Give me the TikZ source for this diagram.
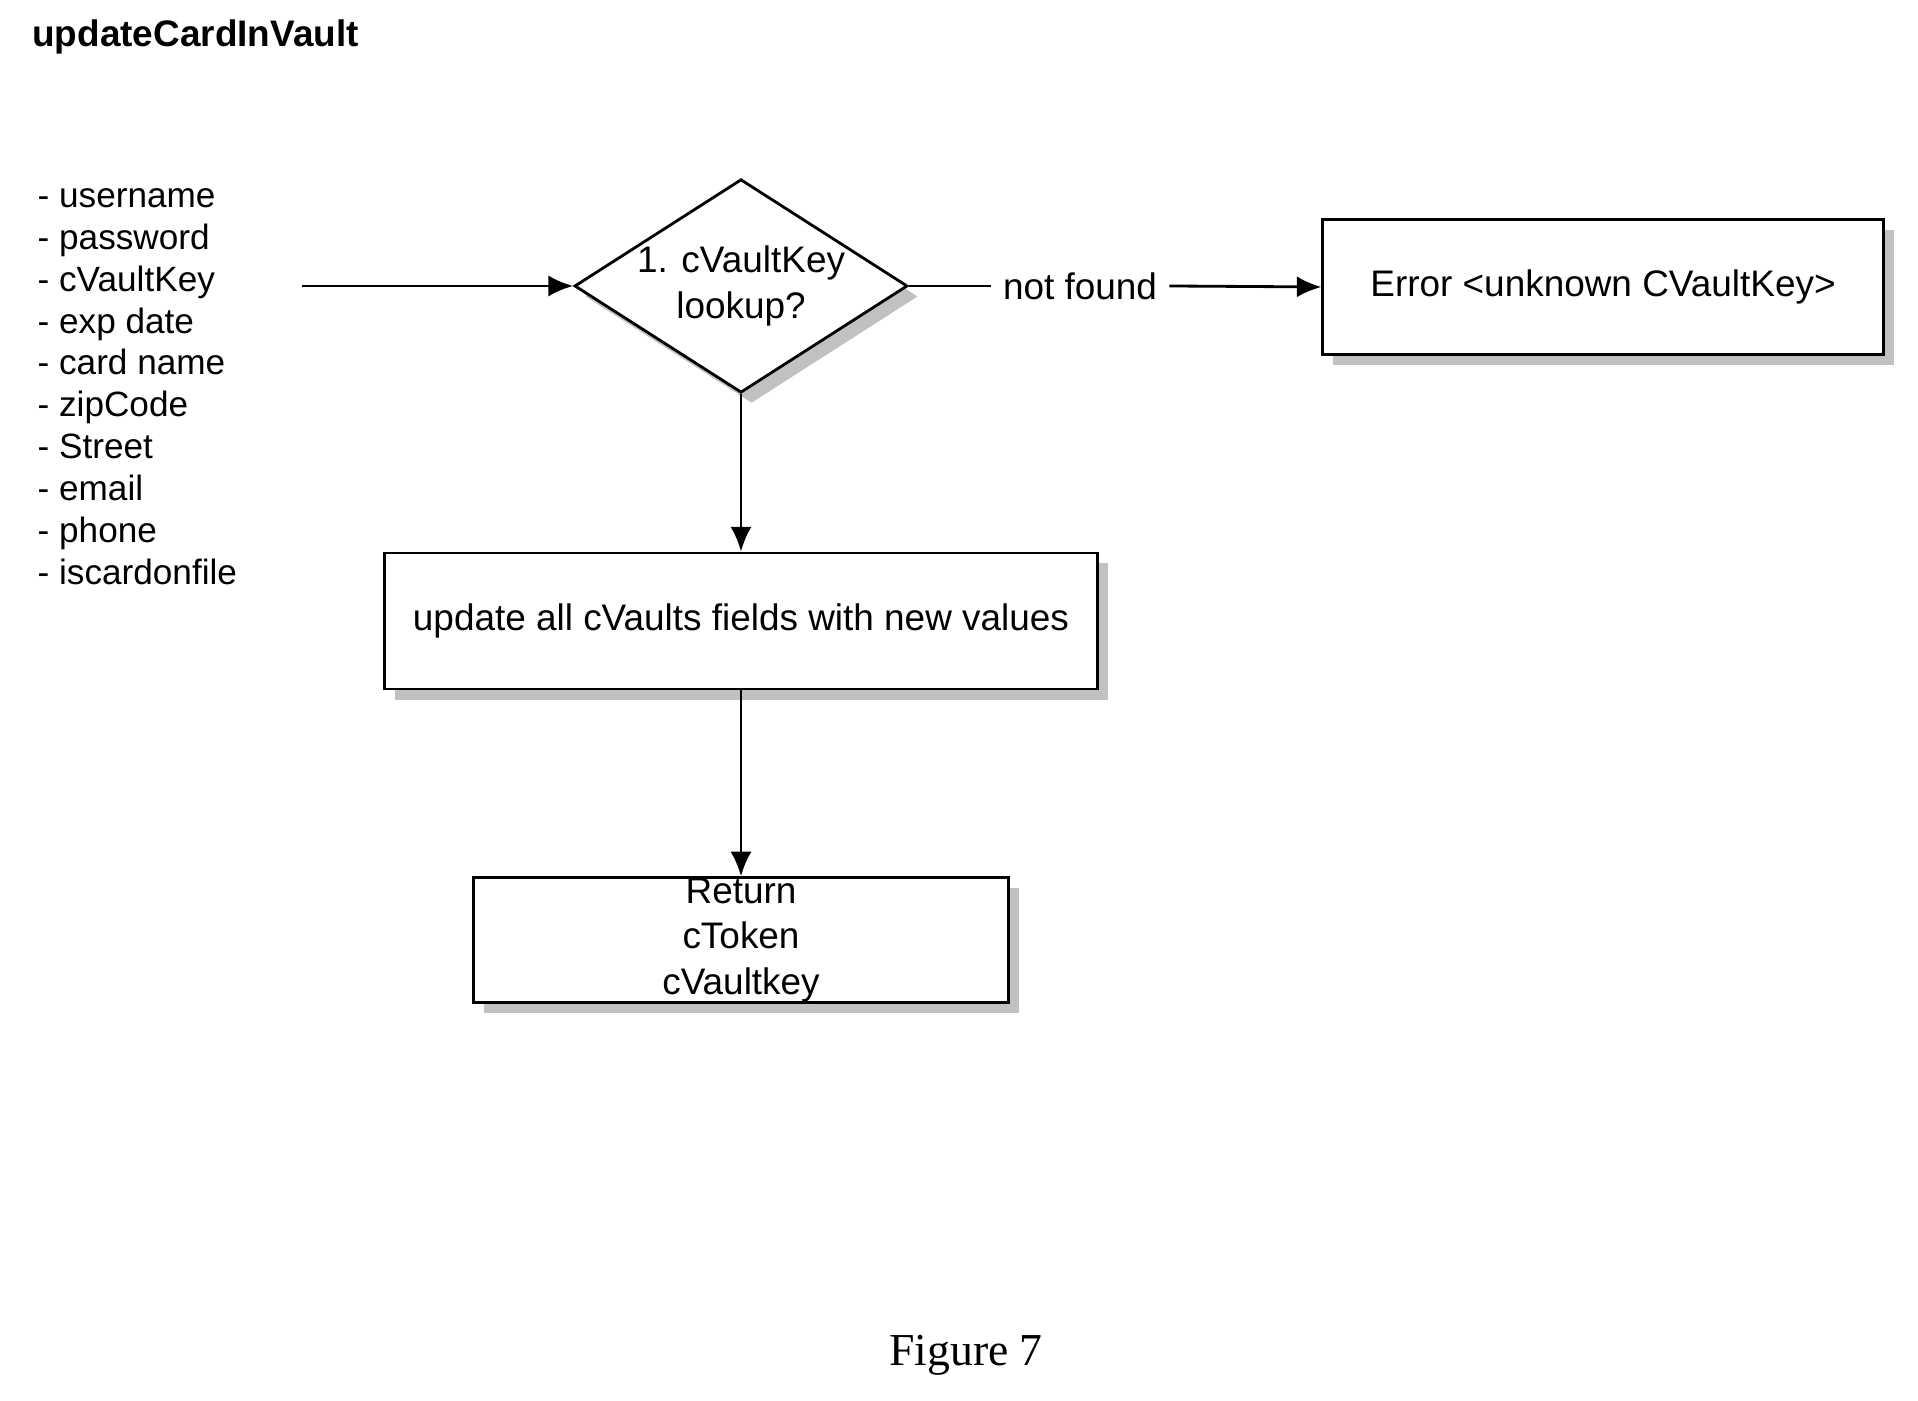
\documentclass[tikz,border=0pt]{standalone}
\usepackage{fontspec}
\setmainfont{Liberation Sans}
\newfontfamily\serifdoc{Liberation Serif}
\usetikzlibrary{shapes.geometric,arrows.meta,shadows}
\begin{document}
\begin{tikzpicture}[x=0.01cm,y=0.01cm,
  box/.style={draw,thick,fill=white,drop shadow={shadow xshift=3pt,shadow yshift=-3pt,fill=gray!60,opacity=0.8},font=\fontsize{10.5}{13}\selectfont,align=center,inner sep=0pt},
  arr/.style={-{Latex[length=7pt,width=6pt]},thick}]
\useasboundingbox (0,0) rectangle (1918,1401);
\node[anchor=west,font=\bfseries\fontsize{10.5}{12}\selectfont] (title) at (20,1364) {updateCardInVault};
\node[anchor=north west,align=left,font=\fontsize{10}{11.9}\selectfont,inner sep=0pt] (inputs) at (37,1213) {- username\\- password\\- cVaultKey\\- exp date\\- card name\\- zipCode\\- Street\\- email\\- phone\\- iscardonfile};
\coordinate (in) at (302,1115);
\node[diamond,box,minimum width=3.2cm,minimum height=2.05cm,aspect=1.56] (d) at (741,1115) {1. cVaultKey\\lookup?};
\node[font=\fontsize{10.5}{13}\selectfont] (nf) at (1080,1115) {not found};
\node[box,minimum width=5.6cm,minimum height=1.35cm] (err) at (1603,1114) {Error <unknown CVaultKey>};
\node[box,minimum width=7.12cm,minimum height=1.36cm] (upd) at (741,780) {update all cVaults fields with new values};
\node[box,minimum width=5.35cm,minimum height=1.14cm] (ret) at (741,461) {Return\\cToken\\cVaultkey};
\node[font=\serifdoc\fontsize{13}{15}\selectfont] (fig) at (966,46) {Figure 7};
\draw[arr] (in) -- (d.west);
\draw[thick] (d.east) -- (nf.west);
\draw[arr] (nf.east) -- (err.west);
\draw[arr] (d.south) -- (upd.north);
\draw[arr] (upd.south) -- (ret.north);
\end{tikzpicture}
\end{document}
